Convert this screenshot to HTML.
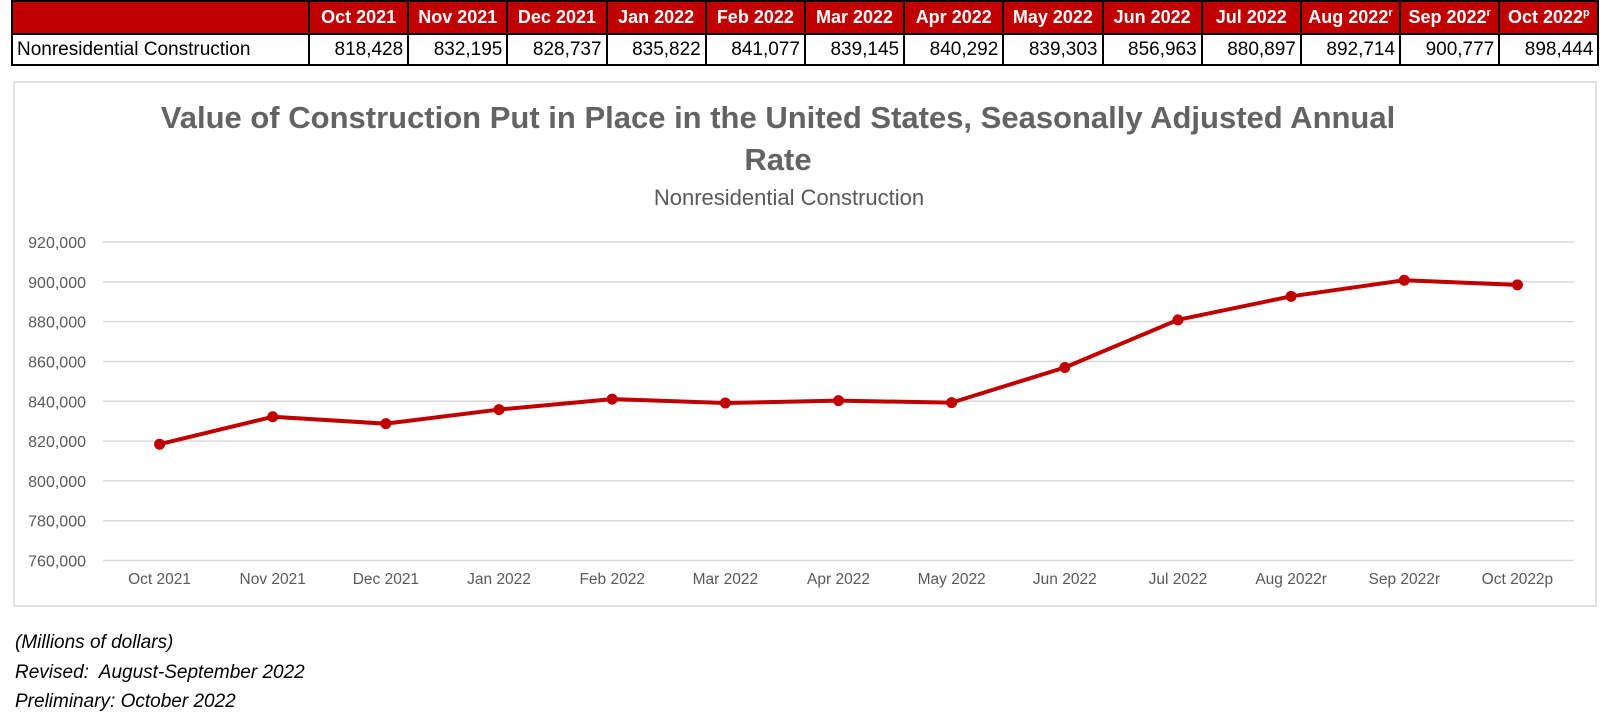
<!DOCTYPE html>
<html><head><meta charset="utf-8"><style>
body{margin:0;width:1600px;height:724px;background:#fff;font-family:"Liberation Sans",sans-serif;overflow:hidden;position:relative}
table{position:absolute;left:11px;top:0;border-collapse:collapse;table-layout:fixed;width:1587px}
td{border:2px solid #000;height:29px;padding:0 4px;font-size:19px;text-align:right;white-space:nowrap;overflow:hidden}
tr.h td{background:#c00000;color:#fff;font-weight:bold;text-align:center;font-size:18px;height:31px}
sup{font-size:11px}
.notes{position:absolute;left:15px;top:628px;font-style:italic;font-size:19px;line-height:29.5px;color:#000}
</style></head><body>
<table>
<colgroup><col style="width:297px"><col span="13" style="width:99.2px"></colgroup>
<tr class="h"><td></td><td>Oct 2021</td><td>Nov 2021</td><td>Dec 2021</td><td>Jan 2022</td><td>Feb 2022</td><td>Mar 2022</td><td>Apr 2022</td><td>May 2022</td><td>Jun 2022</td><td>Jul 2022</td><td>Aug 2022<sup>r</sup></td><td>Sep 2022<sup>r</sup></td><td>Oct 2022<sup>p</sup></td></tr>
<tr><td style="text-align:left">Nonresidential Construction</td><td>818,428</td><td>832,195</td><td>828,737</td><td>835,822</td><td>841,077</td><td>839,145</td><td>840,292</td><td>839,303</td><td>856,963</td><td>880,897</td><td>892,714</td><td>900,777</td><td>898,444</td></tr>
</table>
<svg id="chart" width="1600" height="724" style="position:absolute;left:0;top:0">
<rect x="14" y="82" width="1582" height="524" fill="none" stroke="#d9d9d9" stroke-width="1.5"/>
<text x="778" y="128" text-anchor="middle" font-size="31" font-weight="bold" fill="#636363">Value of Construction Put in Place in the United States, Seasonally Adjusted Annual</text>
<text x="778" y="170" text-anchor="middle" font-size="31" font-weight="bold" fill="#636363">Rate</text>
<text x="789" y="205" text-anchor="middle" font-size="22" fill="#595959">Nonresidential Construction</text>
<g id="grid"></g><g id="series"></g>
</svg>
<div class="notes">(Millions of dollars)<br>Revised:&nbsp; August-September 2022<br>Preliminary: October 2022</div>
<script>
const categories=["Oct 2021","Nov 2021","Dec 2021","Jan 2022","Feb 2022","Mar 2022","Apr 2022","May 2022","Jun 2022","Jul 2022","Aug 2022r","Sep 2022r","Oct 2022p"];
const values=[818428,832195,828737,835822,841077,839145,840292,839303,856963,880897,892714,900777,898444];
const yTicks=[760000,780000,800000,820000,840000,860000,880000,900000,920000];
const NS="http://www.w3.org/2000/svg";
const L=103,R=1574,yMin=760000,yMax=920000,yB=560.5,yT=242;
const x=i=>L+(R-L)/categories.length*(i+0.5);
const y=v=>yB-(v-yMin)/(yMax-yMin)*(yB-yT);
function mk(t,a,p){const e=document.createElementNS(NS,t);for(const k in a)e.setAttribute(k,a[k]);p.appendChild(e);return e;}
const g=document.getElementById('grid'),s=document.getElementById('series');
yTicks.forEach(v=>{
 const l=mk('line',{x1:L,x2:R,y1:y(v),y2:y(v),stroke:'#d9d9d9','stroke-width':1.5},g);
 
 
 const t=mk('text',{x:86,y:y(v)+6,'text-anchor':'end','font-size':16,fill:'#595959'},g);
 t.textContent=v.toLocaleString('en-US');
 
 
});
categories.forEach((c,i)=>{
 const t=mk('text',{x:x(i),y:584,'text-anchor':'middle','font-size':15.5,fill:'#595959'},g);
 t.textContent=c;
 
 
});
const pl=mk('polyline',{points:values.map((v,i)=>x(i)+','+y(v)).join(' '),fill:'none',stroke:'#c00000','stroke-width':4,'stroke-linejoin':'round'},s);


values.forEach((v,i)=>{
 const c=mk('circle',{cx:x(i),cy:y(v),r:5.5,fill:'#c00000'},s);
 
 
});
</script>
</body></html>
